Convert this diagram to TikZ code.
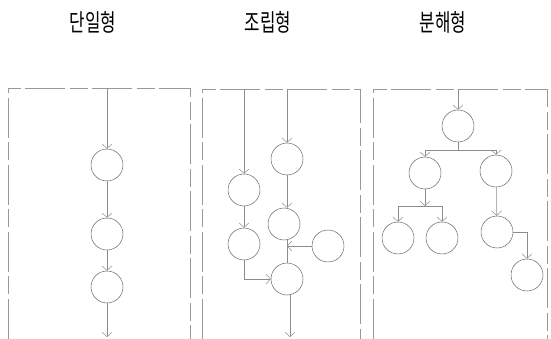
\documentclass[tikz,border=0pt]{standalone}
\usepackage{fontspec}
\usepackage{graphicx}
\newfontfamily\krfont{Noto Sans CJK KR}
\usetikzlibrary{arrows.meta}
\tikzset{
  frame/.style={draw=black!40, line width=0.6pt, dash pattern=on 40pt off 5pt on 18pt off 4pt},
  proc/.style={circle, draw=black!60, line width=0.5pt, minimum size=32pt, inner sep=0pt},
  flow/.style={draw=black!45, line width=0.5pt, -{Straight Barb[length=4.5pt,width=10pt]}},
  link/.style={draw=black!45, line width=0.5pt},
  title/.style={font=\krfont\fontsize{24}{26}\selectfont, inner sep=0pt}
}
\begin{document}
\begin{tikzpicture}[x=1pt,y=-1pt]
\useasboundingbox (0,0) rectangle (551,339);
% titles
\node[title] (t1) at (93,22.5) {\scalebox{0.70}[1]{단일형}};
\node[title] (t2) at (268,22.5) {\scalebox{0.70}[1]{조립형}};
\node[title] (t3) at (443,22.5) {\scalebox{0.70}[1]{분해형}};
% frames
\draw[frame] (8,339) -- (8,88) -- (190,88) -- (190,339);
\draw[frame] (202,339) -- (202,89) -- (360,89) -- (360,339);
\draw[frame] (373,339) -- (373,89) -- (547,89) -- (547,339);
% ---- single type
\coordinate (s0) at (107,88);
\node[proc] (s1) at (107,165) {};
\node[proc] (s2) at (107,234) {};
\node[proc] (s3) at (107,287) {};
\coordinate (s4) at (107,337);
\draw[flow] (s0) -- (s1);
\draw[flow] (s1) -- (s2);
\draw[flow] (s2) -- (s3);
\draw[flow] (s3) -- (s4);
% ---- assembly type
\coordinate (a0) at (287,89);
\coordinate (b0) at (244,89);
\node[proc] (A) at (287,159) {};
\node[proc] (B) at (244,190) {};
\node[proc] (C) at (244,244) {};
\node[proc] (D) at (284,224) {};
\node[proc] (E) at (328,246) {};
\node[proc] (F) at (287,279) {};
\coordinate (J) at (287,246);
\coordinate (f0) at (290,337);
\draw[flow] (a0) -- (A);
\draw[flow] (b0) -- (B);
\draw[flow] (A) -- (A |- D.north);
\draw[flow] (B) -- (C);
\draw[flow] (C.south) |- (F.west);
\draw[link] (J |- D.south) -- (F.north);
\draw[flow] (E.west) -- (J);
\draw[flow] (F.south -| f0) -- (f0);
% ---- disassembly type
\coordinate (d0) at (458,89);
\node[proc] (T) at (458,126) {};
\node[proc] (L1) at (425,173) {};
\node[proc] (R1) at (496,171) {};
\node[proc] (LL) at (398,238) {};
\node[proc] (LR) at (442,238) {};
\node[proc] (R2) at (497,232) {};
\node[proc] (R3) at (527,275) {};
\coordinate (bt) at (458,150);
\coordinate (bl) at (425,150);
\coordinate (br) at (496,150);
\coordinate (cm) at (425,206);
\coordinate (cl) at (398,206);
\coordinate (cr) at (442,206);
\draw[flow] (d0) -- (T);
\draw[link] (T) -- (bt);
\draw[link] (bl) -- (br);
\draw[flow] (bl) -- (L1);
\draw[flow] (br) -- (R1);
\draw[flow] (L1) -- (cm);
\draw[link] (cl) -- (cr);
\draw[flow] (cl) -- (LL);
\draw[flow] (cr) -- (LR);
\draw[flow] (R1) -- (R2);
\draw[flow] (R2.east) -| (R3.north);
\end{tikzpicture}
\end{document}
